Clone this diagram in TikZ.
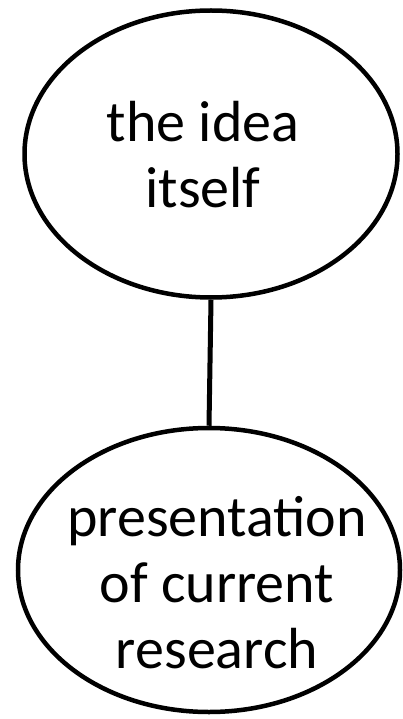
\documentclass[tikz,border=0pt]{standalone}
\usepackage{fontspec}
\setmainfont{Carlito}
\usetikzlibrary{shapes.geometric}
\begin{document}
\begin{tikzpicture}[x=1pt,y=-1pt,
  bubble/.style={draw=black,line width=4.5pt,ellipse,fill=white,inner sep=0pt},
  label/.style={align=center,font=\fontsize{58}{66}\selectfont,inner sep=0pt},
  link/.style={draw=black,line width=5pt}]
\useasboundingbox (0,0) rectangle (403,719);
\node[bubble,minimum width=373pt,minimum height=287pt] (idea) at (211,154) {};
\node[bubble,minimum width=382pt,minimum height=284pt] (pres) at (209,570) {};
\draw[link] (idea.south) -- (pres.north);
\node[label] (ideatext) at (203,155) {the idea\\itself};
\node[label] (prestext) at (217,583) {presentation\\of current\\research};
\end{tikzpicture}
\end{document}
